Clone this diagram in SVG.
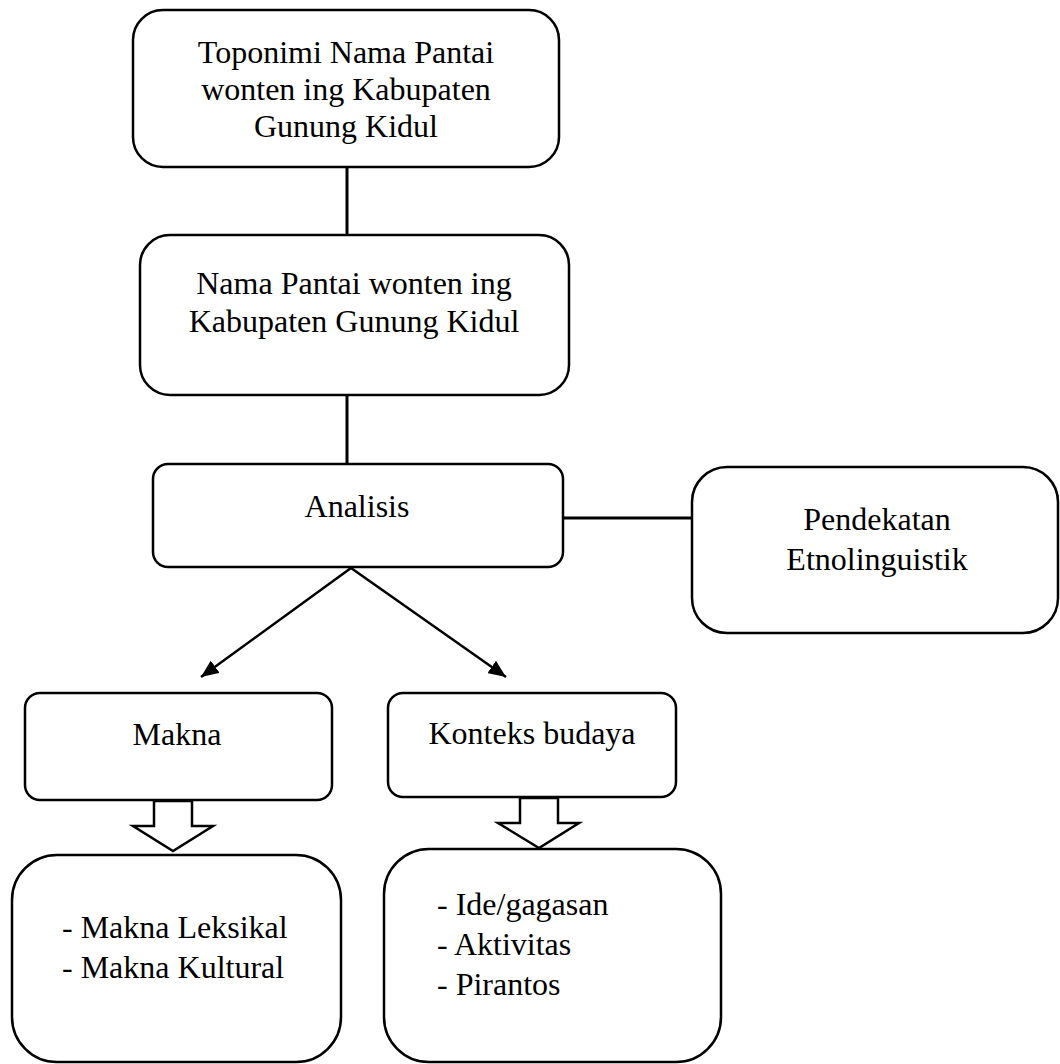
<svg xmlns="http://www.w3.org/2000/svg" width="1060" height="1064" viewBox="0 0 1060 1064">
<defs>
<style>
.box{fill:#fff;stroke:#000;stroke-width:2.5}
.t{font-family:"Liberation Serif","Times New Roman",serif;font-size:32px;fill:#000}
.c{text-anchor:middle}
.ln{stroke:#000;stroke-width:3;fill:none}
.ar{stroke:#000;stroke-width:2.5;fill:none}
.hollow{fill:#fff;stroke:#000;stroke-width:2.5;stroke-linejoin:miter}
</style>
<marker id="ah" viewBox="0 0 10 10" refX="10" refY="5" markerWidth="7" markerHeight="6" markerUnits="strokeWidth" orient="auto" preserveAspectRatio="none">
<path d="M0,0 L10,5 L0,10 z" fill="#000"/>
</marker>
</defs>
<rect width="1060" height="1064" fill="#fff"/>
<g id="connectors">
<line class="ln" x1="347" y1="167" x2="347" y2="236"/>
<line class="ln" x1="347" y1="395" x2="347" y2="464"/>
<line class="ln" x1="563" y1="518" x2="692" y2="518"/>
<line class="ar" x1="351" y1="568" x2="201" y2="677" marker-end="url(#ah)"/>
<line class="ar" x1="351" y1="568" x2="506" y2="677" marker-end="url(#ah)"/>
<path class="hollow" d="M154,801 L192,801 L192,826 L213,826 L173,851 L133,826 L154,826 Z"/>
<path class="hollow" d="M520,798 L558,798 L558,823 L579,823 L539,848 L498,823 L520,823 Z"/>
</g>
<g id="node-toponimi">
<rect class="box" x="133" y="10" width="426" height="157" rx="30"/>
<text class="t c" x="346" y="63">Toponimi Nama Pantai</text>
<text class="t c" x="346" y="100">wonten ing Kabupaten</text>
<text class="t c" x="346" y="137">Gunung Kidul</text>
</g>
<g id="node-nama-pantai">
<rect class="box" x="140" y="235" width="429" height="160" rx="30"/>
<text class="t c" x="354" y="294">Nama Pantai wonten ing</text>
<text class="t c" x="354" y="332">Kabupaten Gunung Kidul</text>
</g>
<g id="node-analisis">
<rect class="box" x="153" y="464" width="410" height="103" rx="15"/>
<text class="t c" x="357" y="517">Analisis</text>
</g>
<g id="node-pendekatan">
<rect class="box" x="692" y="467" width="366" height="166" rx="35"/>
<text class="t c" x="877" y="530">Pendekatan</text>
<text class="t c" x="877" y="570">Etnolinguistik</text>
</g>
<g id="node-makna">
<rect class="box" x="25" y="693" width="307" height="107" rx="15"/>
<text class="t c" x="177" y="745">Makna</text>
</g>
<g id="node-konteks">
<rect class="box" x="388" y="693" width="288" height="104" rx="15"/>
<text class="t c" x="532" y="744">Konteks budaya</text>
</g>
<g id="node-makna-list">
<rect class="box" x="12" y="855" width="329" height="207" rx="45"/>
<text class="t" x="62" y="938">- Makna Leksikal</text>
<text class="t" x="62" y="978">- Makna Kultural</text>
</g>
<g id="node-konteks-list">
<rect class="box" x="384" y="849" width="337" height="213" rx="45"/>
<text class="t" x="437" y="915">- Ide/gagasan</text>
<text class="t" x="437" y="955">- Aktivitas</text>
<text class="t" x="437" y="995">- Pirantos</text>
</g>
</svg>
